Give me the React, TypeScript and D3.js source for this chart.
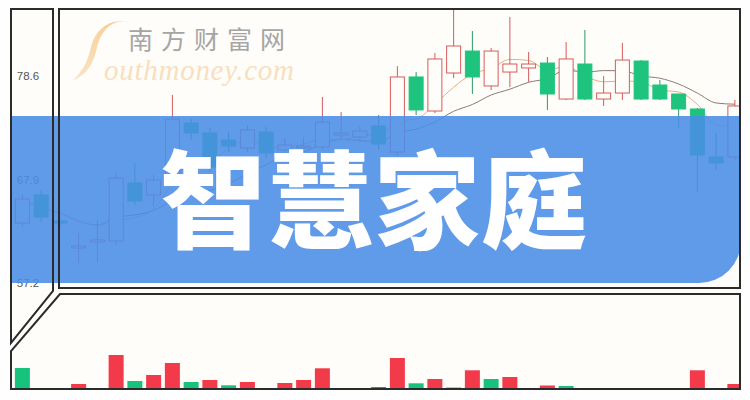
import { useEffect, useRef } from 'react'
import * as d3 from 'd3'

// daily candles (price units)
const opens = [63.40, 66.30, 63.60, 60.82, 61.44, 61.54, 67.54, 66.30, 68.05, 73.74, 72.71, 71.98, 71.16, 72.81, 70.95, 71.16, 71.26, 72.50, 72.29, 73.43, 70.74, 78.50, 74.98, 78.91, 81.18, 77.57, 79.01, 79.43, 79.94, 76.22, 79.84, 76.22, 76.84, 80.15, 77.67, 76.74, 75.19, 70.23, 70.23]
const closes = [65.88, 64.02, 63.40, 61.02, 61.65, 68.05, 65.68, 67.85, 74.15, 72.71, 69.19, 71.36, 73.02, 70.64, 71.47, 71.36, 73.84, 72.71, 72.91, 71.57, 78.50, 75.09, 80.36, 81.70, 78.50, 81.18, 79.84, 79.84, 76.74, 80.36, 76.22, 76.84, 80.25, 76.22, 76.22, 75.19, 70.43, 69.61, 75.50]
const highs = [66.30, 66.80, 64.20, 62.37, 63.71, 68.68, 69.61, 68.37, 76.64, 74.26, 73.22, 72.81, 73.53, 73.33, 72.19, 72.29, 76.43, 74.88, 73.43, 74.57, 79.63, 79.01, 80.98, 85.60, 83.25, 81.49, 84.70, 81.08, 80.56, 82.11, 83.36, 78.60, 82.01, 80.25, 78.19, 76.74, 75.30, 72.71, 76.12]
const lows = [62.99, 63.51, 62.90, 59.27, 59.37, 61.13, 65.27, 65.06, 67.85, 71.98, 68.68, 70.74, 70.74, 70.12, 70.43, 70.43, 70.95, 71.98, 71.78, 70.95, 70.33, 74.57, 74.77, 78.39, 76.74, 77.15, 77.46, 77.98, 75.09, 76.12, 76.12, 75.50, 76.12, 76.12, 76.12, 73.22, 66.61, 68.88, 69.90]

// volume bars (relative) and their colour: 1 = red, -1 = green
const volumes = [21, 0, 0, 5, 0, 34, 8, 14, 26, 7, 9, 3.7, 7, 0, 6, 9, 20.7, 0.5, 0, 2, 31, 5.7, 10, 1.5, 18.7, 10, 12, 0, 3.5, 3, 0, 0, 1, 0, 0, 0, 18.7, 0, 5]
const volumeDir = [-1, 1, 1, 1, 1, 1, -1, 1, 1, -1, 1, -1, 1, 1, 1, 1, 1, 1, 1, 1, 1, -1, 1, -1, 1, -1, 1, 1, 1, -1, 1, 1, 1, 1, 1, 1, 1, 1, 1]

const priceTicks = [78.6, 67.9, 57.2]
const title = '智慧家庭'
const brandCn = '南方财富网'
const brandEn = 'outhmoney.com'

const UP = '#d45c5c'
const DOWN = '#1ec47e'
const RED_BAR = '#f23a4b'
const GREEN_BAR = '#17c27c'

function movingAvg(values: number[], n: number) {
  return values.map((_, i) => {
    const s = values.slice(Math.max(0, i - n + 1), i + 1)
    return d3.mean(s) as number
  })
}

export default function App() {
  const svgRef = useRef<SVGSVGElement>(null)

  useEffect(() => {
    if (!svgRef.current) return
    const svg = d3.select(svgRef.current)
    svg.selectAll('*').remove()

    const width = 750
    const height = 400
    svg.attr('viewBox', `0 0 ${width} ${height}`)

    const idx = closes.map((_, i) => i)
    const x = d3.scaleBand<number>()
      .domain(idx)
      .range([13, 744.25])
      .paddingInner(0.2)
      .paddingOuter(0.1)
    const y = d3.scaleLinear().domain([57.2, 78.6]).range([283, 76])
    const yVol = d3.scaleLinear().domain([0, 40]).range([389, 349])
    const bw = x.bandwidth()
    const cx = (i: number) => (x(i) || 0) + bw / 2

    const defs = svg.append('defs')
    defs.append('clipPath').attr('id', 'price-clip')
      .append('rect').attr('x', 11).attr('y', 10).attr('width', 729).attr('height', 278)
    defs.append('clipPath').attr('id', 'vol-clip')
      .append('rect').attr('x', 11).attr('y', 295).attr('width', 729).attr('height', 94)
    const grad = defs.append('linearGradient').attr('id', 'swoosh')
      .attr('x1', '0').attr('y1', '1').attr('x2', '1').attr('y2', '0')
    grad.append('stop').attr('offset', '0%').attr('stop-color', '#fbe6c8')
    grad.append('stop').attr('offset', '100%').attr('stop-color', '#f6c98e')

    // backgrounds
    svg.append('rect').attr('width', width).attr('height', height).attr('fill', '#fefefe')
    svg.append('rect').attr('x', 11).attr('y', 9).attr('width', 729).attr('height', 380).attr('fill', '#fffdf9')

    // price area
    const pg = svg.append('g').attr('clip-path', 'url(#price-clip)')

    const ma5 = movingAvg(closes, 5)
    const ma10 = movingAvg(closes, 10)
    const line = d3.line<number>().x((_, i) => cx(i)).y(d => y(d)).curve(d3.curveMonotoneX)
    pg.append('path').attr('d', line(ma10)).attr('fill', 'none').attr('stroke', '#8f7a70').attr('stroke-width', 1)
    pg.append('path').attr('d', line(ma5)).attr('fill', 'none').attr('stroke', '#e3b07f').attr('stroke-width', 1)

    const candles = pg.selectAll('.candle').data(idx).enter().append('g').attr('class', 'candle')
    candles.append('line')
      .attr('x1', i => cx(i)).attr('x2', i => cx(i))
      .attr('y1', i => y(highs[i])).attr('y2', i => y(lows[i]))
      .attr('stroke', i => closes[i] >= opens[i] ? UP : '#2a9a68')
      .attr('stroke-width', 1)
    candles.append('rect')
      .attr('x', i => (x(i) || 0) + 0.5)
      .attr('y', i => y(Math.max(opens[i], closes[i])))
      .attr('width', bw - 1)
      .attr('height', i => Math.max(1.5, Math.abs(y(opens[i]) - y(closes[i]))))
      .attr('fill', i => closes[i] >= opens[i] ? '#fffdf9' : DOWN)
      .attr('stroke', i => closes[i] >= opens[i] ? UP : DOWN)
      .attr('stroke-width', 1)

    // price labels in the left panel
    svg.selectAll('.tick-label').data(priceTicks).enter().append('text')
      .attr('x', 28).attr('y', d => y(d) + 4)
      .attr('text-anchor', 'middle')
      .style('font-family', 'Liberation Sans, Arial, sans-serif')
      .style('font-size', '11.5px')
      .attr('fill', '#555')
      .text(d => d.toFixed(1))

    // watermark
    svg.append('path')
      .attr('d', 'M131 23 C113 17, 101 30, 97 48 C93 64, 87 75, 72 81 C84 70, 88 60, 91 47 C95 30, 110 16, 131 23 Z')
      .attr('fill', 'url(#swoosh)')
    svg.append('text')
      .attr('x', 128).attr('y', 49)
      .style('font-family', 'Noto Sans CJK SC, sans-serif')
      .style('font-size', '25px')
      .style('letter-spacing', '8px')
      .attr('fill', '#a5a5a5')
      .text(brandCn)
    svg.append('text')
      .attr('x', 104).attr('y', 80)
      .attr('textLength', 190)
      .style('font-family', 'Liberation Serif, serif')
      .style('font-style', 'italic')
      .style('font-size', '29px')
      .attr('fill', '#f8dfbf')
      .text(brandEn)

    // blue band
    const bx0 = 11, bx1 = 741, by0 = 116, by1 = 283, r = 42
    svg.append('path')
      .attr('d', `M${bx0},${by0} H${bx1} V${by1 - r} A${r},${r} 0 0 1 ${bx1 - r},${by1} H${bx0} Z`)
      .attr('fill', '#4a8de6')
      .attr('fill-opacity', 0.88)

    svg.append('text')
      .attr('x', 374).attr('y', 240)
      .attr('text-anchor', 'middle')
      .style('font-family', 'Noto Sans CJK SC, sans-serif')
      .style('font-weight', 900)
      .style('font-size', '106px')
      .style('letter-spacing', '1px')
      .attr('fill', '#ffffff')
      .text(title)

    // volume bars
    const vg = svg.append('g').attr('clip-path', 'url(#vol-clip)')
    vg.selectAll('.vol').data(idx).enter().append('rect')
      .attr('x', i => x(i) || 0)
      .attr('y', i => yVol(volumes[i]))
      .attr('width', bw)
      .attr('height', i => yVol(0) - yVol(volumes[i]))
      .attr('fill', i => volumeDir[i] > 0 ? RED_BAR : GREEN_BAR)

    // panel frames
    const frame = (pts: [number, number][]) => svg.append('path')
      .attr('d', 'M' + pts.map(p => p.join(',')).join('L') + 'Z')
      .attr('fill', 'none').attr('stroke', '#2b2b2b').attr('stroke-width', 2)
    frame([[11, 9], [53, 9], [53, 291], [11, 343]])
    frame([[59, 9], [740, 9], [740, 288], [59, 288]])
    frame([[60, 294], [740, 294], [740, 389], [11, 389], [11, 351]])
  }, [])

  return (
    <div style={{ position: 'absolute', left: 0, top: 0, width: 750, height: 400 }}>
      <svg ref={svgRef} width={750} height={400} style={{ display: 'block' }} />
    </div>
  )
}
